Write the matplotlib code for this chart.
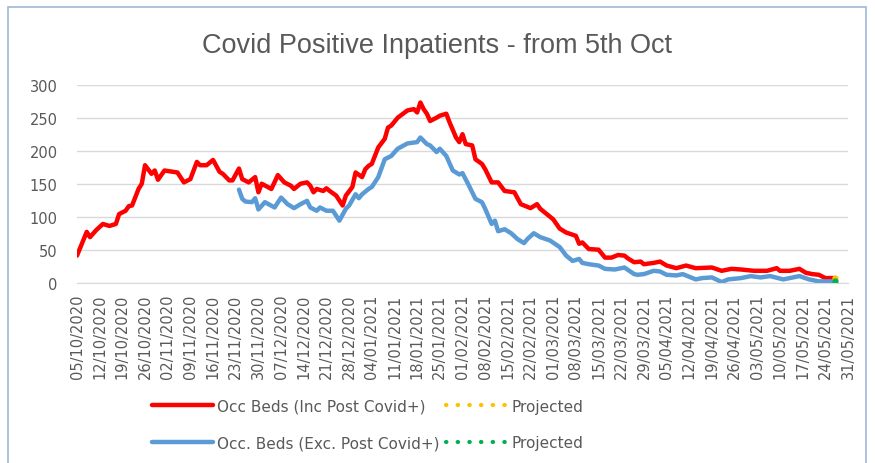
import pandas as pd
import matplotlib
matplotlib.use('Agg')
import matplotlib.pyplot as plt
from matplotlib.patches import Rectangle

start_date = pd.Timestamp('2020-10-05')

# days after 5th Oct
inc_days = [0, 2, 3, 4, 6, 8, 10, 12, 13, 15, 16, 17, 19, 20, 21, 23, 24, 25, 27, 31,
            33, 35, 37, 38, 40, 42, 44, 45, 47, 48, 50, 51, 53, 55, 56, 57, 60, 62, 64, 66,
            67, 69, 71, 72, 73, 74, 76, 77, 78, 80, 82, 83, 85, 86, 88, 89, 90, 91, 93, 95,
            96, 97, 99, 102, 104, 105, 106, 107, 108, 109, 111, 112, 114, 115, 117, 118, 119, 120, 122, 123,
            125, 126, 128, 130, 132, 135, 137, 140, 142, 143, 145, 147, 149, 151, 154, 155, 156, 158, 161, 163,
            165, 167, 169, 170, 172, 174, 175, 178, 180, 182, 185, 188, 191, 196, 199, 202, 205, 209, 213, 216,
            217, 220, 223, 225, 227, 229, 231, 234]
inc_beds = [41, 65, 77, 69, 80, 89, 86, 89, 104, 109, 116, 117, 142, 150, 178, 165, 170, 156, 170, 167,
            152, 157, 183, 178, 178, 186, 168, 165, 155, 155, 173, 157, 152, 160, 137, 150, 142, 163, 152, 147,
            142, 150, 152, 147, 137, 142, 139, 143, 139, 132, 117, 132, 145, 167, 160, 172, 177, 180, 205, 218,
            235, 238, 250, 261, 263, 258, 273, 263, 256, 245, 250, 253, 256, 243, 220, 213, 225, 210, 208, 187,
            180, 172, 152, 152, 139, 137, 119, 113, 119, 112, 104, 96, 82, 76, 71, 59, 61, 51, 50, 38,
            38, 42, 41, 37, 31, 32, 28, 30, 32, 26, 22, 26, 22, 23, 18, 21, 20, 18, 18, 22,
            18, 18, 21, 15, 13, 12, 7, 7]

exc_days = [50, 51, 52, 54, 55, 56, 58, 61, 63, 65, 67, 69, 71, 72, 74, 75, 77, 79, 81, 83,
            84, 86, 87, 88, 90, 91, 93, 95, 97, 99, 102, 105, 106, 108, 109, 111, 112, 114, 116, 118,
            119, 121, 123, 125, 126, 128, 129, 130, 132, 134, 136, 138, 139, 141, 143, 146, 149, 151, 153, 155,
            156, 158, 161, 163, 166, 169, 172, 173, 175, 178, 180, 182, 185, 187, 191, 193, 196, 199, 201, 205,
            208, 211, 214, 218, 223, 226, 229, 234]
exc_beds = [141, 127, 123, 122, 128, 111, 122, 114, 129, 119, 113, 119, 124, 114, 109, 114, 109, 109, 94, 112,
            117, 134, 128, 134, 142, 145, 160, 187, 192, 203, 211, 213, 220, 210, 208, 198, 203, 192, 170, 164,
            166, 147, 127, 122, 112, 89, 94, 78, 81, 75, 66, 60, 66, 75, 69, 64, 54, 41, 33, 36,
            30, 28, 26, 21, 20, 23, 13, 12, 13, 18, 17, 12, 11, 13, 5, 7, 8, 1, 5, 7,
            10, 8, 10, 5, 10, 5, 2, 2]

proj_days = [234]
proj_inc = [7]
proj_exc = [2]

tick_dates = pd.date_range('2020-10-05', '2021-05-31', freq='7D')
tick_days = [(d - start_date).days for d in tick_dates]
tick_labels = [d.strftime('%d/%m/%Y') for d in tick_dates]

grey = '#595959'

fig = plt.figure(figsize=(8.75, 4.64), dpi=100)
ax = fig.add_axes([77 / 875, 1 - 283.7 / 464, (848 - 77) / 875, (283.7 - 85.7) / 464])

ax.plot(inc_days, inc_beds, color='#FF0000', linewidth=3.2, solid_capstyle='round',
        label='Occ Beds (Inc Post Covid+)')
ax.plot(exc_days, exc_beds, color='#5B9BD5', linewidth=3.2, solid_capstyle='round',
        label='Occ. Beds (Exc. Post Covid+)')
ax.plot(proj_days, proj_inc, color='#FFC000', linestyle=(0, (0.1, 2.7)), linewidth=3.0,
        dash_capstyle='round', label='Projected')
ax.plot(proj_days, proj_exc, color='#00B050', linestyle=(0, (0.1, 2.7)), linewidth=3.0,
        dash_capstyle='round', label='Projected')
# single projected points at the end of each series
ax.plot(proj_days, proj_inc, 'o', color='#FFC000', markersize=3.5)
ax.plot(proj_days, proj_exc, 'o', color='#00B050', markersize=3.5)

ax.set_xlim(0, 238)
ax.set_ylim(0, 300)
ax.set_yticks(range(0, 301, 50))
ax.set_xticks(tick_days)
ax.set_xticklabels(tick_labels, rotation=90)
ax.tick_params(axis='both', length=0, colors=grey, labelsize=10.5)
ax.tick_params(axis='y', pad=14)
ax.tick_params(axis='x', pad=8)
ax.grid(axis='y', color='#D9D9D9', linewidth=1)
ax.set_axisbelow(True)
for side in ['top', 'right', 'left']:
    ax.spines[side].set_visible(False)
ax.spines['bottom'].set_color('#D9D9D9')

fig.suptitle('Covid Positive Inpatients - from 5th Oct', x=0.5, y=0.928, fontsize=19.5,
             color=grey, family='Liberation Sans')

leg = fig.legend(ncol=2, loc='center', bbox_to_anchor=(0.42, 0.083), frameon=False,
                 fontsize=11, handlelength=4.0, columnspacing=0.4, labelspacing=1.4,
                 handletextpad=0.3, labelcolor=grey)

fig.patches.append(Rectangle((8 / 875, -0.05), 858 / 875, 1.05 - 8 / 464, transform=fig.transFigure,
                             fill=False, edgecolor='#9DB9D5', linewidth=1.2))

fig.savefig('out.png', dpi=100)
